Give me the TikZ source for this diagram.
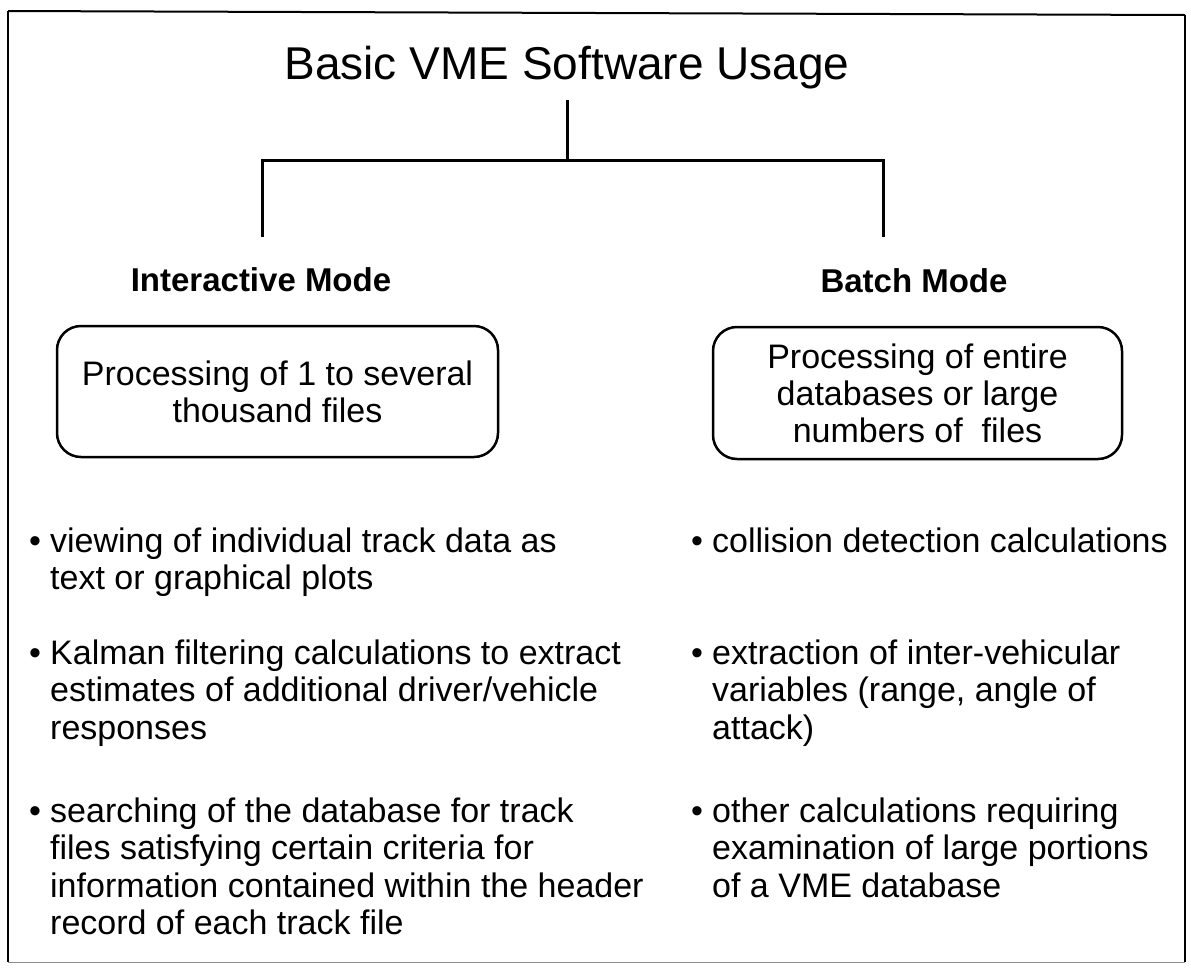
\documentclass[tikz,border=0pt]{standalone}
\usepackage{fontspec}
\setmainfont{Liberation Sans}
\begin{document}
\begin{tikzpicture}[x=1pt,y=-1pt,
  tree/.style={line width=3pt, line join=miter},
  modebox/.style={draw, line width=2.5pt, rounded corners=24pt, align=center,
    font=\fontsize{34}{37}\selectfont, inner sep=0pt},
  head/.style={font=\bfseries\fontsize{33}{38}\selectfont, anchor=base, inner sep=0pt},
  item/.style={font=\fontsize{34}{37.5}\selectfont, align=left, anchor=base west, inner sep=0pt},
  bul/.style={font=\fontsize{34}{37.5}\selectfont, anchor=base, inner sep=0pt}]
\useasboundingbox (0,0) rectangle (1191,967);
% frame
\draw[line width=2pt] (8,11) -- (1185,15);
\draw[line width=1.2pt] (8,11) -- (8,962);
\draw[line width=1.5pt] (1185,15) -- (1185,962);
\draw[line width=1pt, black!45] (8,962) -- (1185,962);
% title
\node[font=\fontsize{46}{50}\selectfont, anchor=base, inner sep=0pt] (title) at (567,79) {Basic VME Software Usage};
\coordinate (ts) at (567,100);
\coordinate (j) at (567,160);
\coordinate (jl) at (262,160);
\coordinate (jr) at (883,160);
\coordinate (el) at (262,237);
\coordinate (er) at (883,237);
\draw[tree] (ts) -- (j);
\draw[tree] (el) -- (jl) -- (jr) -- (er);
% headings
\node[head] (ihead) at (261,291) {Interactive Mode};
\node[head] (bhead) at (914,292) {Batch Mode};
% boxes
\node[modebox, minimum width=441pt, minimum height=131pt] (ibox) at (277.5,391.5)
  {Processing of 1 to several\\thousand files};
\node[modebox, minimum width=409pt, minimum height=132pt] (bbox) at (917.5,393)
  {Processing of entire\\databases or large\\numbers of\ \ files};
% left bullets (item nodes anchored at the baseline of their last line)
\node[bul] (lb1) at (35,552) {•};
\node[item] (li1) at (50,589.5) {viewing of individual track data as\\text or graphical plots};
\node[bul] (lb2) at (35,664) {•};
\node[item] (li2) at (50,739) {Kalman filtering calculations to extract\\estimates of additional driver/vehicle\\responses};
\node[bul] (lb3) at (35,822) {•};
\node[item] (li3) at (50,934.5) {searching of the database for track\\files satisfying certain criteria for\\information contained within the header\\record of each track file};
% right bullets
\node[bul] (rb1) at (697,552) {•};
\node[item] (ri1) at (712,552) {collision detection calculations};
\node[bul] (rb2) at (697,664) {•};
\node[item] (ri2) at (712,739) {extraction of inter-vehicular\\variables (range, angle of\\attack)};
\node[bul] (rb3) at (697,822) {•};
\node[item] (ri3) at (712,897) {other calculations requiring\\examination of large portions\\of a VME database};
\end{tikzpicture}
\end{document}
